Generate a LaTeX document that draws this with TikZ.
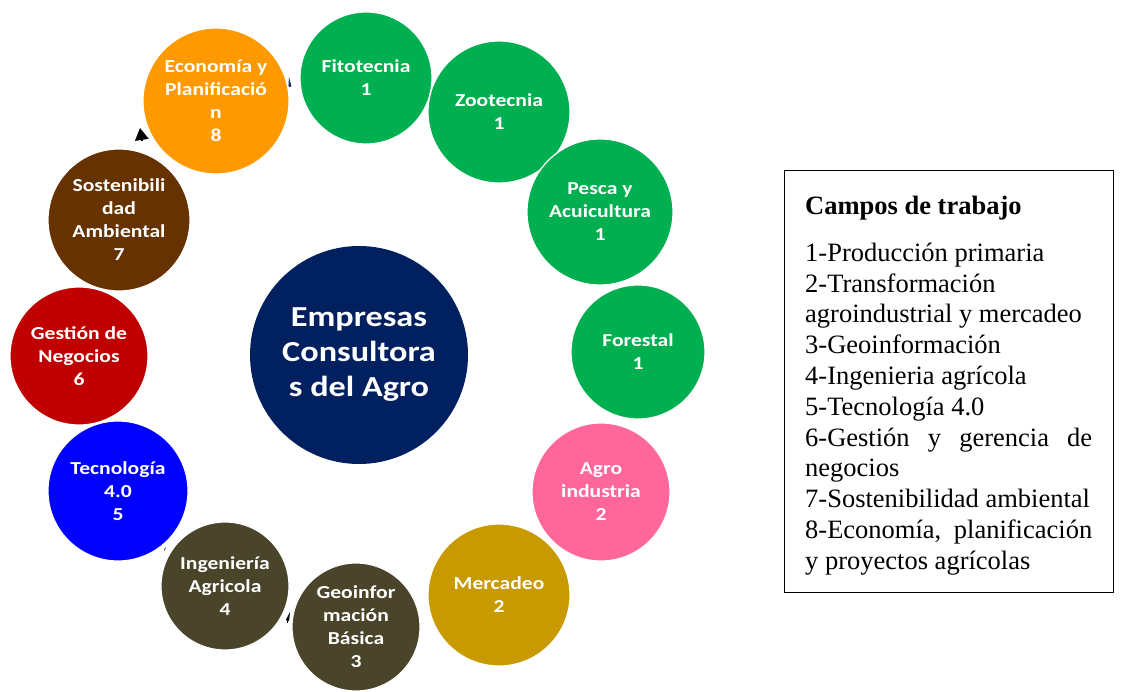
\documentclass[tikz,border=0pt]{standalone}
\usepackage{fontspec}
\setmainfont{Liberation Serif}
\newfontfamily\circfont[FakeStretch=1.18]{Carlito}
\usetikzlibrary{arrows.meta}
\definecolor{cgreen}{HTML}{00B050}
\definecolor{cpink}{HTML}{FF6699}
\definecolor{cgold}{HTML}{C99A00}
\definecolor{colive}{HTML}{4A442A}
\definecolor{cblue}{HTML}{0000FF}
\definecolor{cred}{HTML}{C00000}
\definecolor{cbrown}{HTML}{663300}
\definecolor{corange}{HTML}{FF9900}
\definecolor{cnavy}{HTML}{002060}
\definecolor{ctick}{HTML}{1F3864}
\tikzset{
  ring/.style={circle, draw=white, line width=1.2pt, inner sep=0pt, minimum size=#1, text=white,
    font=\circfont\bfseries\fontsize{18.3}{23}\selectfont, align=center},
  hub/.style={circle, inner sep=0pt, minimum size=218pt, fill=cnavy, text=white,
    font=\circfont\bfseries\fontsize{29}{35}\selectfont, align=center},
  tipfrag/.style={line width=0pt},
}
\begin{document}
\begin{tikzpicture}[x=1pt,y=-1pt]
\useasboundingbox (0,0) rectangle (1121,692);
\node[hub] (hub) at (359,355) {Empresas\\Consultora\\s del Agro};
\node[ring=132pt, fill=cgreen] (fito) at (366,78) {Fitotecnia\\1};
\node[ring=142pt, fill=cgreen] (zoo) at (499,112) {Zootecnia\\1};
\node[ring=146pt, fill=cgreen] (pesca) at (600,212) {Pesca y\\Acuicultura\\1};
\node[ring=134pt, fill=cgreen] (fore) at (638,352) {Forestal\\1};
\node[ring=138pt, fill=cpink] (agro) at (601,492) {Agro\\industria\\2};
\node[ring=142pt, fill=cgold] (merc) at (499,595) {Mercadeo\\2};
\node[ring=128pt, fill=colive] (geo) at (356,627) {Geoinfor\\mación\\Básica\\3};
\node[ring=128pt, fill=colive] (ing) at (225,586) {Ingeniería\\Agricola\\4};
\node[ring=140pt, fill=cblue] (tec) at (118,491) {Tecnología\\4.0\\5};
\node[ring=138pt, fill=cred] (ges) at (79,356) {Gestión de\\Negocios\\6};
\node[ring=142pt, fill=cbrown] (sos) at (119,220) {Sostenibili\\dad\\Ambiental\\7};
\node[ring=146pt, fill=corange] (eco) at (216,101) {Economía y\\Planificació\\n\\8};
% arrow tip fragments
\coordinate (t1a) at (142,141); \coordinate (t1b) at (140,128);
\draw[tipfrag, -{Triangle[length=12pt,width=14pt]}, draw=black] (t1a) -- (t1b);
\coordinate (t2a) at (290,87); \coordinate (t2b) at (289,77);
\draw[tipfrag, -{Triangle[length=9pt,width=3pt]}, draw=ctick] (t2a) -- (t2b);
\coordinate (t3a) at (164,550); \coordinate (t3b) at (166,547);
\draw[tipfrag, -{Triangle[length=3pt,width=2pt]}, draw=gray] (t3a) -- (t3b);
\coordinate (t4a) at (287,622); \coordinate (t4b) at (290,612);
\draw[tipfrag, -{Triangle[length=9pt,width=3.5pt]}, draw=black] (t4a) -- (t4b);
% legend box
\node[draw=black, line width=0.8pt, minimum width=329pt, minimum height=422pt, anchor=north west] (box) at (784,170) {};
\node[anchor=north west, inner sep=0pt, align=left, font=\fontsize{26.5}{30.8}\selectfont] (legend) at (805,196) {%
\textbf{Campos de trabajo}\\[16pt]
1-Producción primaria\\
2-Transformación\\
agroindustrial y mercadeo\\
3-Geoinformación\\
4-Ingenieria agrícola\\
5-Tecnología 4.0\\
\makebox[287pt][s]{6-Gestión y gerencia de}\\
negocios\\
7-Sostenibilidad ambiental\\
\makebox[287pt][s]{8-Economía, planificación}\\
y proyectos agrícolas};
\end{tikzpicture}
\end{document}
